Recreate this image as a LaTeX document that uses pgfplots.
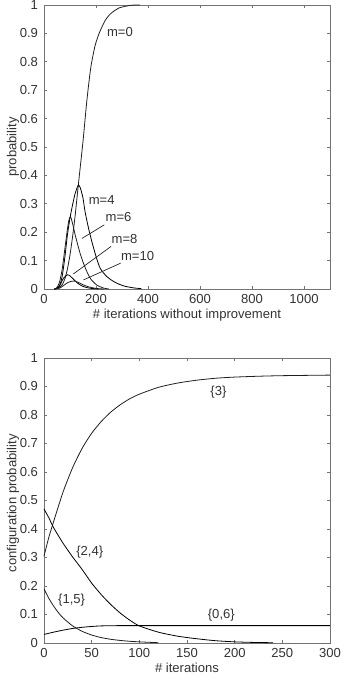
\documentclass[border=0pt]{standalone}
\usepackage{fontspec}
\setmainfont{Liberation Sans}
\usepackage{pgfplots}
\pgfplotsset{compat=1.18}
\definecolor{axcol}{gray}{0.45}
\definecolor{txtcol}{gray}{0.2}
\definecolor{lncol}{gray}{0.12}
\pgfplotsset{
  matlab/.style={
    scale only axis,
    width=214.5pt,
    axis line style={axcol, line width=0.6pt},
    major tick style={axcol, line width=0.5pt},
    tick align=inside,
    xtick pos=both, ytick pos=both,
    major tick length=2.5pt,
    /pgf/number format/assume math mode=true,
    ticklabel style={font=\fontsize{9.8}{11}\selectfont, text=txtcol},
    label style={font=\fontsize{9.8}{11}\selectfont, text=txtcol},
    ymin=0, ymax=1,
    ytick={0,0.1,0.2,0.3,0.4,0.5,0.6,0.7,0.8,0.9,1},
    yticklabels={0,0.1,0.2,0.3,0.4,0.5,0.6,0.7,0.8,0.9,1},
    yticklabel style={xshift=-1pt},
    xticklabel style={yshift=-0.5pt},
    cycle list={{lncol, solid}},
    every axis plot/.append style={line width=0.6pt, smooth, tension=0.4, no markers},
    clip=false,
  }
}
\begin{document}
\begin{tikzpicture}
\useasboundingbox (0,0) rectangle (255.75pt,510.75pt);
% ---------------- top axis ----------------
\begin{axis}[matlab,
  at={(33pt,294pt)}, anchor=south west,
  height=213pt,
  xmin=0, xmax=1100,
  xtick={0,200,400,600,800,1000},
  xticklabels={0,200,400,600,800,1000},
  xlabel={\# iterations without improvement},
  ylabel={probability},
  x label style={at={(axis description cs:0.5,-0.092)}, anchor=center},
  y label style={at={(axis description cs:-0.108,0.5)}, anchor=center, rotate=0},
]
% m=0
\addplot coordinates {(40,0) (50,0.002) (60,0.006) (70,0.015) (80,0.035) (90,0.07) (100,0.12) (110,0.185) (120,0.26) (132,0.366) (150,0.52) (165,0.665) (180,0.78) (196,0.855) (212,0.9) (235,0.945) (257,0.97) (290,0.99) (335,0.999) (370,1)};
% m=4
\addplot coordinates {(40,0) (50,0.003) (60,0.012) (70,0.045) (80,0.11) (90,0.19) (100,0.25) (110,0.297) (120,0.337) (132,0.366) (140,0.355) (150,0.32) (158,0.272) (171,0.215) (184,0.167) (200,0.115) (216,0.073) (240,0.045) (260,0.031) (281,0.02) (310,0.01) (344,0.004) (375,0.001)};
% m=6
\addplot coordinates {(40,0) (50,0.005) (60,0.025) (70,0.07) (80,0.14) (90,0.21) (96,0.243) (102,0.255) (110,0.23) (120,0.19) (130,0.155) (139,0.125) (150,0.095) (165,0.061) (180,0.035) (203,0.014) (230,0.003) (250,0)};
% m=8
\addplot coordinates {(40,0) (55,0.005) (65,0.02) (75,0.038) (90,0.05) (100,0.046) (115,0.033) (130,0.02) (150,0.009) (175,0.003) (210,0)};
% m=10
\addplot coordinates {(40,0) (60,0.003) (75,0.012) (90,0.022) (105,0.027) (115,0.028) (130,0.024) (150,0.015) (170,0.008) (200,0.002) (230,0)};
\begin{scope}[every node/.style={font=\fontsize{9.8}{11}\selectfont, text=txtcol, inner sep=0pt}]
\node at (axis cs:292,0.905) {m=0};
\node at (axis cs:222,0.315) {m=4};
\node at (axis cs:287,0.252) {m=6};
\node at (axis cs:310,0.177) {m=8};
\node at (axis cs:360,0.116) {m=10};
\end{scope}
\draw[lncol, line width=0.5pt] (axis cs:146,0.178) -- (axis cs:232,0.226);
\draw[lncol, line width=0.5pt] (axis cs:113,0.053) -- (axis cs:258,0.150);
\draw[lncol, line width=0.5pt] (axis cs:152,0.032) -- (axis cs:295,0.091);
\end{axis}
% ---------------- bottom axis ----------------
\begin{axis}[matlab,
  at={(33pt,28.5pt)}, anchor=south west,
  height=213.75pt,
  xmin=0, xmax=300,
  xtick={0,50,100,150,200,250,300},
  xticklabels={0,50,100,150,200,250,300},
  xlabel={\# iterations},
  ylabel={configuration probability},
  x label style={at={(axis description cs:0.5,-0.088)}, anchor=center},
  y label style={at={(axis description cs:-0.108,0.49)}, anchor=center, rotate=0},
]
% {3}
\addplot coordinates {(0,0.305) (5,0.37) (10,0.425) (20,0.53) (30,0.615) (40,0.683) (50,0.736) (60,0.777) (70,0.81) (80,0.836) (90,0.857) (100,0.873) (120,0.897) (140,0.912) (160,0.922) (180,0.929) (200,0.933) (225,0.936) (250,0.938) (300,0.94)};
% {2,4}
\addplot coordinates {(0,0.47) (5,0.44) (10,0.405) (20,0.35) (30,0.302) (40,0.258) (50,0.21) (60,0.17) (70,0.135) (80,0.105) (90,0.08) (100,0.06) (120,0.038) (140,0.024) (160,0.015) (180,0.008) (200,0.004) (220,0.002) (240,0.001)};
% {1,5}
\addplot coordinates {(0,0.19) (5,0.157) (10,0.13) (15,0.107) (20,0.088) (30,0.06) (40,0.041) (50,0.028) (60,0.019) (70,0.013) (80,0.009) (90,0.006) (100,0.004) (120,0.001)};
% {0,6}
\addplot coordinates {(0,0.03) (10,0.038) (20,0.045) (30,0.051) (40,0.055) (50,0.058) (60,0.06) (80,0.061) (100,0.061) (300,0.061)};
\begin{scope}[every node/.style={font=\fontsize{9.8}{11}\selectfont, text=txtcol, inner sep=0pt}]
\node at (axis cs:183,0.882) {\{3\}};
\node at (axis cs:48,0.32) {\{2,4\}};
\node at (axis cs:29,0.15) {\{1,5\}};
\node at (axis cs:186,0.098) {\{0,6\}};
\end{scope}
\end{axis}
\end{tikzpicture}
\end{document}
